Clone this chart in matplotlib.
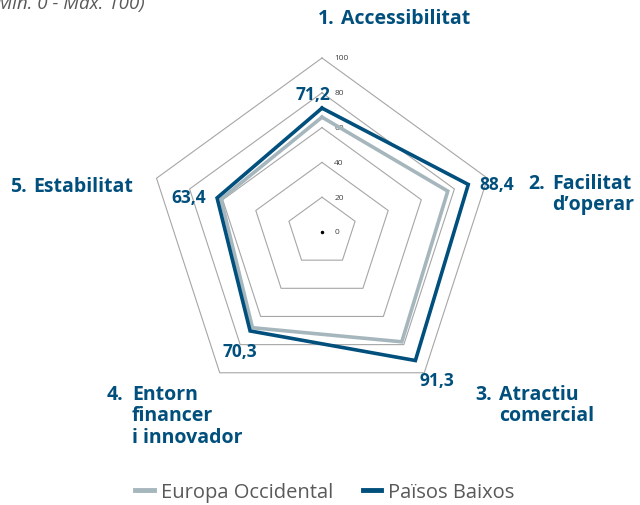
import numpy as np
import matplotlib
matplotlib.use("Agg")
import matplotlib.pyplot as plt

# Daten
nummern = ['1.', '2.', '3.', '4.', '5.']
kategorien = [['Accessibilitat'], ['Facilitat', 'd\u2019operar'], ['Atractiu', 'comercial'],
              ['Entorn', 'financer', 'i innovador'], ['Estabilitat']]
europa = [66.0, 76.0, 78.0, 68.0, 61.0]
baixos = [71.2, 88.4, 91.3, 70.3, 63.4]
ticks = [0, 20, 40, 60, 80, 100]
serien = ['Europa Occidental', 'Pa\u00efsos Baixos']

blau = '#004f7c'
grau = '#a6b6bd'
txt = '#595959'

plt.rcParams['font.family'] = ['Open Sans', 'DejaVu Sans']

W, H = 640, 506
fig = plt.figure(figsize=(W / 100, H / 100), dpi=100)
ax = fig.add_axes([0, 0, 1, 1])
ax.axis('off')

# 100 Einheiten = 174 px, Mittelpunkt bei (322, 233) px
s = 1.74
cx, cy = 322, 233
ax.set_xlim(-cx / s, (W - cx) / s)
ax.set_ylim(-(H - cy) / s, cy / s)

n = len(baixos)
winkel = np.pi / 2 - np.arange(n) * 2 * np.pi / n

def xy(werte):
    w = np.asarray(werte, dtype=float)
    x = w * np.cos(winkel)
    y = w * np.sin(winkel)
    return np.append(x, x[0]), np.append(y, y[0])

# Gitter-Fünfecke
for t in ticks[1:]:
    gx, gy = xy([t] * n)
    ax.plot(gx, gy, color='#a6a6a6', lw=0.8, zorder=1)
ax.plot([0], [0], 'o', color='black', ms=1.5, zorder=2)
for t in ticks:
    ax.text(7, t, str(t), fontsize=6, color='#404040', ha='left', va='center')

# Serien
ex, ey = xy(europa)
bx, by = xy(baixos)
ax.plot(ex, ey, color=grau, lw=2.6, solid_joinstyle='miter', label=serien[0], zorder=3)
ax.plot(bx, by, color=blau, lw=2.6, solid_joinstyle='miter', label=serien[1], zorder=4)

# Wertbeschriftungen (Offset in px)
offs = [(-9, 14), (28, 0), (21, -19), (-10, -20), (-28, 1)]
for i, v in enumerate(baixos):
    ax.annotate(f'{v:.1f}'.replace('.', ','), (bx[i], by[i]),
                xytext=(offs[i][0] * 0.72, offs[i][1] * 0.72), textcoords='offset points',
                ha='center', va='center', fontsize=12.5, fontweight='bold', color=blau)

# Kategorien: Nummer hängt, Rest linksbündig (y = Grundlinie der ersten Zeile)
lab_pos = [(318, 24, 341), (528, 189, 552), (475, 400, 499), (107, 400, 132), (10, 192, 33)]
zeile = 21.5
for i, (nx, ny, tx) in enumerate(lab_pos):
    fig.text(nx / W, 1 - ny / H, nummern[i], fontsize=14, fontweight='bold',
             color=blau, ha='left', va='baseline')
    for k, z in enumerate(kategorien[i]):
        fig.text(tx / W, 1 - (ny + k * zeile) / H, z, fontsize=14, fontweight='bold',
                 color=blau, ha='left', va='baseline')

# Untertitel oben links (im Original angeschnitten)
fig.text(145 / W, 1 - 9 / H, '(M\u00edn. 0 - M\u00e0x. 100)', fontsize=13.5,
         style='italic', color=txt, ha='right', va='baseline')

leg = ax.legend(loc='center', bbox_to_anchor=(0.5 + 5 / W, 1 - 493 / H), ncol=2, frameon=False,
                fontsize=14.5, handlelength=0.9, handletextpad=0.35, columnspacing=1.5)
for t in leg.get_texts():
    t.set_color(txt)
for l in leg.get_lines():
    l.set_linewidth(3.5)

fig.savefig('out.png', dpi=100)
